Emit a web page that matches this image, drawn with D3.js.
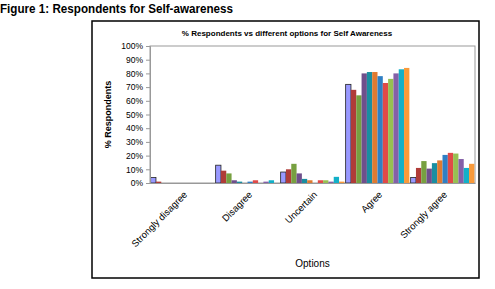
<!DOCTYPE html>
<meta charset="utf-8">
<style>
    body { margin: 0; background: #fff; }
    svg text { font-family: "Liberation Sans", Arial, sans-serif; fill: #000; }
    .tick text { font-size: 8.5px; }
    .cat text { font-size: 9.5px; }
</style>
<svg width="495" height="289"></svg>
<script src="https://d3js.org/d3.v7.min.js"></script>
<script>

    var options = ["Strongly disagree", "Disagree", "Uncertain", "Agree", "Strongly agree"];
    var seriesNames = ["S1", "S2", "S3", "S4", "S5", "S6", "S7", "S8", "S9", "S10", "S11", "S12"];
    var yTicks = [0, 10, 20, 30, 40, 50, 60, 70, 80, 90, 100];

    // % respondents, one array per option (series in order)
    var stronglyDisagree = [4, 1, 0, 0, 0, 0, 0, 0, 0, 0, 0, 0];
    var disagree = [13, 9, 7, 2, 1, 0, 1, 2, 0, 1, 2, 0];
    var uncertain = [8, 10, 14, 7, 3, 2, 0, 2, 2, 1, 4.5, 1];
    var agree = [72, 68, 64, 80, 81, 81, 78, 73, 76, 80, 83, 84];
    var stronglyAgree = [4, 11, 16, 10.5, 14.5, 16.5, 20.5, 22, 21.5, 17.5, 11, 14];

    var colors = ["#9999ff", "#b03c38", "#77a040", "#6f4f8c", "#1a8ea0", "#e07a30",
        "#2f7fc4", "#e04a48", "#97c052", "#8460a8", "#12b0c8", "#f99a3a"];

    var values = [stronglyDisagree, disagree, uncertain, agree, stronglyAgree];

    var svg = d3.select("svg"),
        plotLeft = 150, plotRight = 475, plotTop = 46, plotBottom = 183;

    // caption
    svg.append("text")
        .attr("x", 0).attr("y", 13)
        .attr("textLength", 233).attr("lengthAdjust", "spacingAndGlyphs")
        .style("font-size", "12.5px").style("font-weight", "bold")
        .text("Figure 1:  Respondents for Self-awareness");

    // chart box
    svg.append("rect")
        .attr("x", 92).attr("y", 21)
        .attr("width", 387).attr("height", 257)
        .attr("fill", "#fff").attr("stroke", "#000").attr("stroke-width", 1.5);

    var x0 = d3.scaleBand()
        .domain(options)
        .range([plotLeft, plotRight])
        .paddingInner(0.02)
        .paddingOuter(0.01);

    var x1 = d3.scaleBand()
        .domain(seriesNames)
        .range([0, x0.bandwidth()]);

    var y = d3.scaleLinear()
        .domain([0, 100])
        .range([plotBottom, plotTop]);

    // plot area
    svg.append("rect")
        .attr("x", plotLeft).attr("y", plotTop)
        .attr("width", plotRight - plotLeft).attr("height", plotBottom - plotTop)
        .attr("fill", "#fff").attr("stroke", "#999").attr("stroke-width", 1);

    // bars
    var group = svg.selectAll(".cat-g")
        .data(options)
        .enter().append("g")
        .attr("transform", function (d) { return "translate(" + x0(d) + ",0)"; });

    group.selectAll("rect")
        .data(function (d, i) {
            return values[i].map(function (v, j) { return {s: seriesNames[j], v: v, j: j}; });
        })
        .enter().append("rect")
        .attr("x", function (d) { return x1(d.s); })
        .attr("width", x1.bandwidth())
        .attr("y", function (d) { return y(d.v); })
        .attr("height", function (d) { return plotBottom - y(d.v); })
        .attr("fill", function (d) { return colors[d.j]; })
        .attr("stroke", function (d) { return d.j === 0 ? "#222" : "none"; })
        .attr("stroke-width", 0.8);

    // y axis
    var yAxis = svg.append("g")
        .attr("transform", "translate(" + plotLeft + ",0)")
        .call(d3.axisLeft(y).tickValues(yTicks).tickSize(4).tickPadding(3)
            .tickFormat(function (d) { return d + "%"; }));
    yAxis.select(".domain").attr("stroke", "#999");
    yAxis.selectAll(".tick line").attr("stroke", "#999");
    yAxis.selectAll(".tick text").attr("fill", "#222");

    // x axis
    var xAxis = svg.append("g")
        .attr("class", "cat")
        .attr("transform", "translate(0," + plotBottom + ")")
        .call(d3.axisBottom(x0).tickSize(0).tickPadding(0));
    xAxis.select(".domain").attr("stroke", "#999");
    xAxis.selectAll(".tick text")
        .attr("text-anchor", "end")
        .attr("transform", "translate(3,10) rotate(-45)")
        .attr("dy", "0.35em")
        .attr("y", 0)
        .attr("fill", "#111");

    // titles
    svg.append("text")
        .attr("x", 287).attr("y", 36)
        .attr("text-anchor", "middle")
        .style("font-size", "8px").style("font-weight", "bold")
        .text("% Respondents vs different options for Self Awareness");

    svg.append("text")
        .attr("transform", "translate(111," + (plotTop + plotBottom) / 2 + ") rotate(-90)")
        .attr("text-anchor", "middle")
        .style("font-size", "9px").style("font-weight", "bold")
        .text("% Respondents");

    svg.append("text")
        .attr("x", (plotLeft + plotRight) / 2).attr("y", 267)
        .attr("text-anchor", "middle")
        .style("font-size", "10px")
        .text("Options");
</script>
